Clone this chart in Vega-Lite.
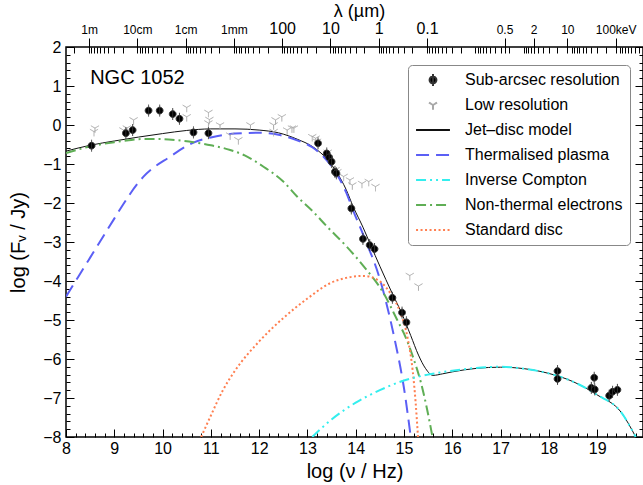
{
  "$schema": "https://vega.github.io/schema/vega-lite/v6.json",
  "width": 577,
  "height": 390,
  "autosize": {"type": "none"},
  "padding": {"left": 66, "top": 47, "right": 0, "bottom": 48},
  "background": "white",
  "config": {
    "view": {"stroke": "black", "strokeWidth": 1.5},
    "font": "Liberation Sans",
    "axis": {"grid": false, "domain": false, "labelFont": "Liberation Sans", "titleFont": "Liberation Sans", "labelColor": "black", "titleColor": "black", "tickColor": "black", "tickWidth": 1, "titleFontWeight": "normal", "labelOverlap": false, "labelFlush": false, "labelBound": false}
  },
  "resolve": {"axis": {"x": "independent", "y": "independent"}},
  "datasets": {
    "models": [
      {"series": "Jet–disc model", "nu": 8.0, "f": -0.67}, {"series": "Jet–disc model", "nu": 8.5, "f": -0.52}, {"series": "Jet–disc model", "nu": 9.0, "f": -0.41}, {"series": "Jet–disc model", "nu": 9.5, "f": -0.31}, {"series": "Jet–disc model", "nu": 10.0, "f": -0.22}, {"series": "Jet–disc model", "nu": 10.5, "f": -0.14}, {"series": "Jet–disc model", "nu": 11.0, "f": -0.1}, {"series": "Jet–disc model", "nu": 11.5, "f": -0.1}, {"series": "Jet–disc model", "nu": 12.0, "f": -0.13}, {"series": "Jet–disc model", "nu": 12.4, "f": -0.2}, {"series": "Jet–disc model", "nu": 12.8, "f": -0.37}, {"series": "Jet–disc model", "nu": 13.1, "f": -0.55}, {"series": "Jet–disc model", "nu": 13.34, "f": -0.79}, {"series": "Jet–disc model", "nu": 13.6, "f": -1.2}, {"series": "Jet–disc model", "nu": 13.8, "f": -1.65}, {"series": "Jet–disc model", "nu": 13.95, "f": -2.1}, {"series": "Jet–disc model", "nu": 14.15, "f": -2.62}, {"series": "Jet–disc model", "nu": 14.31, "f": -3.08}, {"series": "Jet–disc model", "nu": 14.5, "f": -3.62}, {"series": "Jet–disc model", "nu": 14.75, "f": -4.3}, {"series": "Jet–disc model", "nu": 14.95, "f": -4.82}, {"series": "Jet–disc model", "nu": 15.14, "f": -5.4}, {"series": "Jet–disc model", "nu": 15.3, "f": -5.9}, {"series": "Jet–disc model", "nu": 15.45, "f": -6.25}, {"series": "Jet–disc model", "nu": 15.6, "f": -6.42}, {"series": "Jet–disc model", "nu": 15.8, "f": -6.38}, {"series": "Jet–disc model", "nu": 16.0, "f": -6.33}, {"series": "Jet–disc model", "nu": 16.5, "f": -6.24}, {"series": "Jet–disc model", "nu": 17.0, "f": -6.21}, {"series": "Jet–disc model", "nu": 17.5, "f": -6.25}, {"series": "Jet–disc model", "nu": 18.0, "f": -6.37}, {"series": "Jet–disc model", "nu": 18.5, "f": -6.58}, {"series": "Jet–disc model", "nu": 19.0, "f": -6.92}, {"series": "Jet–disc model", "nu": 19.5, "f": -7.37}, {"series": "Jet–disc model", "nu": 19.8, "f": -8.0},
      {"series": "Thermalised plasma", "nu": 8.0, "f": -4.4}, {"series": "Thermalised plasma", "nu": 8.5, "f": -3.4}, {"series": "Thermalised plasma", "nu": 9.0, "f": -2.4}, {"series": "Thermalised plasma", "nu": 9.12, "f": -2.16}, {"series": "Thermalised plasma", "nu": 9.6, "f": -1.33}, {"series": "Thermalised plasma", "nu": 10.16, "f": -0.81}, {"series": "Thermalised plasma", "nu": 10.64, "f": -0.45}, {"series": "Thermalised plasma", "nu": 11.0, "f": -0.32}, {"series": "Thermalised plasma", "nu": 11.5, "f": -0.22}, {"series": "Thermalised plasma", "nu": 12.0, "f": -0.2}, {"series": "Thermalised plasma", "nu": 12.4, "f": -0.25}, {"series": "Thermalised plasma", "nu": 12.8, "f": -0.4}, {"series": "Thermalised plasma", "nu": 13.1, "f": -0.57}, {"series": "Thermalised plasma", "nu": 13.34, "f": -0.82}, {"series": "Thermalised plasma", "nu": 13.6, "f": -1.24}, {"series": "Thermalised plasma", "nu": 13.8, "f": -1.72}, {"series": "Thermalised plasma", "nu": 13.95, "f": -2.2}, {"series": "Thermalised plasma", "nu": 14.17, "f": -2.86}, {"series": "Thermalised plasma", "nu": 14.5, "f": -3.95}, {"series": "Thermalised plasma", "nu": 14.79, "f": -5.4}, {"series": "Thermalised plasma", "nu": 15.0, "f": -6.75}, {"series": "Thermalised plasma", "nu": 15.14, "f": -8.0},
      {"series": "Non-thermal electrons", "nu": 8.0, "f": -0.72}, {"series": "Non-thermal electrons", "nu": 8.5, "f": -0.55}, {"series": "Non-thermal electrons", "nu": 9.0, "f": -0.44}, {"series": "Non-thermal electrons", "nu": 9.3, "f": -0.39}, {"series": "Non-thermal electrons", "nu": 9.6, "f": -0.36}, {"series": "Non-thermal electrons", "nu": 9.95, "f": -0.36}, {"series": "Non-thermal electrons", "nu": 10.3, "f": -0.39}, {"series": "Non-thermal electrons", "nu": 10.64, "f": -0.44}, {"series": "Non-thermal electrons", "nu": 11.0, "f": -0.52}, {"series": "Non-thermal electrons", "nu": 11.4, "f": -0.64}, {"series": "Non-thermal electrons", "nu": 11.7, "f": -0.78}, {"series": "Non-thermal electrons", "nu": 12.09, "f": -1.07}, {"series": "Non-thermal electrons", "nu": 12.5, "f": -1.45}, {"series": "Non-thermal electrons", "nu": 12.79, "f": -1.84}, {"series": "Non-thermal electrons", "nu": 13.1, "f": -2.2}, {"series": "Non-thermal electrons", "nu": 13.41, "f": -2.61}, {"series": "Non-thermal electrons", "nu": 13.8, "f": -3.1}, {"series": "Non-thermal electrons", "nu": 14.17, "f": -3.63}, {"series": "Non-thermal electrons", "nu": 14.58, "f": -4.32}, {"series": "Non-thermal electrons", "nu": 14.86, "f": -5.0}, {"series": "Non-thermal electrons", "nu": 15.03, "f": -5.43}, {"series": "Non-thermal electrons", "nu": 15.2, "f": -6.0}, {"series": "Non-thermal electrons", "nu": 15.35, "f": -6.6}, {"series": "Non-thermal electrons", "nu": 15.48, "f": -7.3}, {"series": "Non-thermal electrons", "nu": 15.59, "f": -8.0},
      {"series": "Standard disc", "nu": 10.8, "f": -8.0}, {"series": "Standard disc", "nu": 11.0, "f": -7.45}, {"series": "Standard disc", "nu": 11.25, "f": -6.8}, {"series": "Standard disc", "nu": 11.5, "f": -6.3}, {"series": "Standard disc", "nu": 12.0, "f": -5.55}, {"series": "Standard disc", "nu": 12.5, "f": -4.95}, {"series": "Standard disc", "nu": 13.0, "f": -4.45}, {"series": "Standard disc", "nu": 13.48, "f": -4.05}, {"series": "Standard disc", "nu": 13.8, "f": -3.92}, {"series": "Standard disc", "nu": 14.17, "f": -3.87}, {"series": "Standard disc", "nu": 14.45, "f": -3.97}, {"series": "Standard disc", "nu": 14.72, "f": -4.32}, {"series": "Standard disc", "nu": 14.93, "f": -4.83}, {"series": "Standard disc", "nu": 15.07, "f": -5.43}, {"series": "Standard disc", "nu": 15.18, "f": -6.3}, {"series": "Standard disc", "nu": 15.24, "f": -7.1}, {"series": "Standard disc", "nu": 15.29, "f": -8.0},
      {"series": "Inverse Compton", "nu": 13.1, "f": -8.0}, {"series": "Inverse Compton", "nu": 13.5, "f": -7.55}, {"series": "Inverse Compton", "nu": 14.0, "f": -7.12}, {"series": "Inverse Compton", "nu": 14.5, "f": -6.8}, {"series": "Inverse Compton", "nu": 15.0, "f": -6.55}, {"series": "Inverse Compton", "nu": 15.5, "f": -6.4}, {"series": "Inverse Compton", "nu": 16.0, "f": -6.3}, {"series": "Inverse Compton", "nu": 16.5, "f": -6.23}, {"series": "Inverse Compton", "nu": 17.0, "f": -6.2}, {"series": "Inverse Compton", "nu": 17.5, "f": -6.25}, {"series": "Inverse Compton", "nu": 18.0, "f": -6.37}, {"series": "Inverse Compton", "nu": 18.5, "f": -6.58}, {"series": "Inverse Compton", "nu": 19.0, "f": -6.92}, {"series": "Inverse Compton", "nu": 19.5, "f": -7.37}, {"series": "Inverse Compton", "nu": 19.8, "f": -8.0}
    ],
    "points": [
      {"res": "Low resolution", "nu": 8.58, "f": -0.17}, {"res": "Low resolution", "nu": 8.6, "f": -0.08}, {"res": "Low resolution", "nu": 9.19, "f": -0.13}, {"res": "Low resolution", "nu": 9.26, "f": -0.08}, {"res": "Low resolution", "nu": 9.4, "f": 0.13}, {"res": "Low resolution", "nu": 10.5, "f": 0.45}, {"res": "Low resolution", "nu": 10.5, "f": 0.21}, {"res": "Low resolution", "nu": 10.95, "f": 0.32}, {"res": "Low resolution", "nu": 10.95, "f": 0.05}, {"res": "Low resolution", "nu": 10.97, "f": 0.14}, {"res": "Low resolution", "nu": 11.19, "f": 0.0}, {"res": "Low resolution", "nu": 11.4, "f": -0.26}, {"res": "Low resolution", "nu": 11.57, "f": -0.38}, {"res": "Low resolution", "nu": 11.82, "f": 0.0}, {"res": "Low resolution", "nu": 12.3, "f": 0.0}, {"res": "Low resolution", "nu": 12.34, "f": 0.13}, {"res": "Low resolution", "nu": 12.47, "f": 0.21}, {"res": "Low resolution", "nu": 12.3, "f": -0.17}, {"res": "Low resolution", "nu": 12.58, "f": -0.13}, {"res": "Low resolution", "nu": 12.68, "f": -0.08}, {"res": "Low resolution", "nu": 12.72, "f": -0.08}, {"res": "Low resolution", "nu": 13.1, "f": -0.3}, {"res": "Low resolution", "nu": 13.17, "f": -0.34}, {"res": "Low resolution", "nu": 13.2, "f": -0.42}, {"res": "Low resolution", "nu": 13.42, "f": -0.7}, {"res": "Low resolution", "nu": 13.58, "f": -1.15}, {"res": "Low resolution", "nu": 13.62, "f": -1.2}, {"res": "Low resolution", "nu": 13.75, "f": -1.32}, {"res": "Low resolution", "nu": 13.88, "f": -1.41}, {"res": "Low resolution", "nu": 13.93, "f": -1.54}, {"res": "Low resolution", "nu": 14.13, "f": -1.5}, {"res": "Low resolution", "nu": 14.27, "f": -1.45}, {"res": "Low resolution", "nu": 14.41, "f": -1.58}, {"res": "Low resolution", "nu": 15.12, "f": -3.86}, {"res": "Low resolution", "nu": 15.3, "f": -4.13},
      {"res": "Sub-arcsec resolution", "nu": 8.53, "f": -0.53}, {"res": "Sub-arcsec resolution", "nu": 9.24, "f": -0.21}, {"res": "Sub-arcsec resolution", "nu": 9.38, "f": -0.13}, {"res": "Sub-arcsec resolution", "nu": 9.71, "f": 0.37}, {"res": "Sub-arcsec resolution", "nu": 9.94, "f": 0.37}, {"res": "Sub-arcsec resolution", "nu": 10.21, "f": 0.28}, {"res": "Sub-arcsec resolution", "nu": 10.35, "f": 0.16}, {"res": "Sub-arcsec resolution", "nu": 10.64, "f": -0.19}, {"res": "Sub-arcsec resolution", "nu": 10.95, "f": -0.21},
      {"res": "Sub-arcsec resolution", "nu": 13.22, "f": -0.47}, {"res": "Sub-arcsec resolution", "nu": 13.4, "f": -0.73}, {"res": "Sub-arcsec resolution", "nu": 13.45, "f": -0.83}, {"res": "Sub-arcsec resolution", "nu": 13.5, "f": -0.94}, {"res": "Sub-arcsec resolution", "nu": 13.57, "f": -1.2}, {"res": "Sub-arcsec resolution", "nu": 13.6, "f": -1.24}, {"res": "Sub-arcsec resolution", "nu": 13.91, "f": -2.14}, {"res": "Sub-arcsec resolution", "nu": 14.15, "f": -2.92}, {"res": "Sub-arcsec resolution", "nu": 14.29, "f": -3.08}, {"res": "Sub-arcsec resolution", "nu": 14.39, "f": -3.18}, {"res": "Sub-arcsec resolution", "nu": 14.76, "f": -4.43}, {"res": "Sub-arcsec resolution", "nu": 14.96, "f": -4.81}, {"res": "Sub-arcsec resolution", "nu": 15.05, "f": -5.06},
      {"res": "Sub-arcsec resolution", "nu": 18.18, "f": -6.31}, {"res": "Sub-arcsec resolution", "nu": 18.18, "f": -6.51}, {"res": "Sub-arcsec resolution", "nu": 18.94, "f": -6.48}, {"res": "Sub-arcsec resolution", "nu": 18.88, "f": -6.74}, {"res": "Sub-arcsec resolution", "nu": 18.95, "f": -6.78}, {"res": "Sub-arcsec resolution", "nu": 19.25, "f": -6.94}, {"res": "Sub-arcsec resolution", "nu": 19.32, "f": -6.84}, {"res": "Sub-arcsec resolution", "nu": 19.42, "f": -6.79}
    ],
    "label": [{"text": "NGC 1052", "nu": 8.5, "f": 1.06}]
  },
  "layer": [
    {
      "data": {"name": "models"},
      "transform": [{"filter": "datum.series === 'Jet–disc model'"}],
      "mark": {"type": "line", "clip": true, "interpolate": "monotone", "color": "#111111", "strokeWidth": 1},
      "encoding": {
        "x": {"field": "nu", "type": "quantitative", "scale": {"domain": [8, 19.95], "nice": false, "zero": false},
          "axis": {"orient": "bottom", "title": "log (ν / Hz)", "titleFontSize": 20, "titlePadding": 1, "labelFontSize": 16, "labelPadding": 11.5,
            "values": [8, 8.2, 8.4, 8.6, 8.8, 9, 9.2, 9.4, 9.6, 9.8, 10, 10.2, 10.4, 10.6, 10.8, 11, 11.2, 11.4, 11.6, 11.8, 12, 12.2, 12.4, 12.6, 12.8, 13, 13.2, 13.4, 13.6, 13.8, 14, 14.2, 14.4, 14.6, 14.8, 15, 15.2, 15.4, 15.6, 15.8, 16, 16.2, 16.4, 16.6, 16.8, 17, 17.2, 17.4, 17.6, 17.8, 18, 18.2, 18.4, 18.6, 18.8, 19, 19.2, 19.4, 19.6, 19.8],
            "labelExpr": "datum.value % 1 === 0 ? format(datum.value, 'd') : ''",
            "tickSize": {"condition": {"test": "datum.value % 1 === 0", "value": -8}, "value": -4}}},
        "y": {"field": "f", "type": "quantitative", "scale": {"domain": [-8, 2], "nice": false, "zero": false},
          "axis": {"orient": "left", "title": "log (Fᵥ / Jy)", "titleFontSize": 20, "titlePadding": 14, "labelFontSize": 16, "labelPadding": 13,
            "values": [-8, -7.8, -7.6, -7.4, -7.2, -7, -6.8, -6.6, -6.4, -6.2, -6, -5.8, -5.6, -5.4, -5.2, -5, -4.8, -4.6, -4.4, -4.2, -4, -3.8, -3.6, -3.4, -3.2, -3, -2.8, -2.6, -2.4, -2.2, -2, -1.8, -1.6, -1.4, -1.2, -1, -0.8, -0.6, -0.4, -0.2, 0, 0.2, 0.4, 0.6, 0.8, 1, 1.2, 1.4, 1.6, 1.8, 2],
            "labelExpr": "datum.value % 1 === 0 ? format(datum.value, 'd') : ''",
            "tickSize": {"condition": {"test": "datum.value % 1 === 0", "value": -8}, "value": -4}}}
      }
    },
    {
      "data": {"name": "models"},
      "transform": [{"filter": "datum.series === 'Thermalised plasma'"}],
      "mark": {"type": "line", "clip": true, "interpolate": "monotone", "color": "#5b5ff5", "strokeWidth": 2, "strokeDash": [13, 7]},
      "encoding": {
        "x": {"field": "nu", "type": "quantitative", "scale": {"domain": [8, 19.95], "nice": false, "zero": false}, "axis": null},
        "y": {"field": "f", "type": "quantitative", "scale": {"domain": [-8, 2], "nice": false, "zero": false}, "axis": null}
      }
    },
    {
      "data": {"name": "models"},
      "transform": [{"filter": "datum.series === 'Non-thermal electrons'"}],
      "mark": {"type": "line", "clip": true, "interpolate": "monotone", "color": "#5fae55", "strokeWidth": 2, "strokeDash": [10, 4, 2, 4]},
      "encoding": {
        "x": {"field": "nu", "type": "quantitative", "scale": {"domain": [8, 19.95], "nice": false, "zero": false}, "axis": null},
        "y": {"field": "f", "type": "quantitative", "scale": {"domain": [-8, 2], "nice": false, "zero": false}, "axis": null}
      }
    },
    {
      "data": {"name": "models"},
      "transform": [{"filter": "datum.series === 'Standard disc'"}],
      "mark": {"type": "line", "clip": true, "interpolate": "monotone", "color": "#ff7f50", "strokeWidth": 2, "strokeDash": [2, 2.5]},
      "encoding": {
        "x": {"field": "nu", "type": "quantitative", "scale": {"domain": [8, 19.95], "nice": false, "zero": false}, "axis": null},
        "y": {"field": "f", "type": "quantitative", "scale": {"domain": [-8, 2], "nice": false, "zero": false}, "axis": null}
      }
    },
    {
      "data": {"name": "models"},
      "transform": [{"filter": "datum.series === 'Inverse Compton'"}],
      "mark": {"type": "line", "clip": true, "interpolate": "monotone", "color": "#33eeee", "strokeWidth": 2, "strokeDash": [10, 4, 2, 4, 2, 4]},
      "encoding": {
        "x": {"field": "nu", "type": "quantitative", "scale": {"domain": [8, 19.95], "nice": false, "zero": false}, "axis": null},
        "y": {"field": "f", "type": "quantitative", "scale": {"domain": [-8, 2], "nice": false, "zero": false}, "axis": null}
      }
    },
    {
      "data": {"name": "points"},
      "mark": {"type": "point", "filled": true, "size": 1150, "strokeWidth": 1, "opacity": 1, "clip": true},
      "encoding": {
        "x": {"field": "nu", "type": "quantitative", "scale": {"domain": [8, 19.95], "nice": false, "zero": false},
          "axis": {"orient": "top", "offset": -6, "title": "λ (µm)", "titleFontSize": 18, "titlePadding": 0, "labelPadding": 2, "titleX": 293,
            "values": [8.176, 8.477, 8.523, 8.574, 8.632, 8.699, 8.778, 8.875, 9.0, 9.176, 9.477, 9.523, 9.574, 9.632, 9.699, 9.778, 9.875, 10.0, 10.176, 10.477, 10.523, 10.574, 10.632, 10.699, 10.778, 10.875, 11.0, 11.176, 11.477, 11.523, 11.574, 11.632, 11.699, 11.778, 11.875, 12.0, 12.176, 12.477, 12.523, 12.574, 12.632, 12.699, 12.778, 12.875, 13.0, 13.176, 13.477, 13.523, 13.574, 13.632, 13.699, 13.778, 13.875, 14.0, 14.176, 14.477, 14.523, 14.574, 14.632, 14.699, 14.778, 14.875, 15.0, 15.176, 15.477, 15.523, 15.574, 15.632, 15.699, 15.778, 15.875, 16.0, 16.176, 16.477, 16.523, 16.574, 16.632, 16.699, 16.778, 16.875, 17.0, 17.176, 17.477, 17.523, 17.574, 17.632, 17.699, 17.778, 17.875, 18.0, 18.176, 18.477, 18.523, 18.574, 18.632, 18.699, 18.778, 18.875, 19.0, 19.176, 19.477, 19.523, 19.574, 19.632, 19.699, 19.778, 19.875, 17.082, 17.685, 18.383, 19.383],
            "labelExpr": "['1m','10cm','1cm','1mm','100','10','1','0.1','0.5','2','10','100keV'][indexof([8.477, 9.477, 10.477, 11.477, 12.477, 13.477, 14.477, 15.477, 17.082, 17.685, 18.383, 19.383], datum.value)] || ''",
            "labelFontSize": {"condition": {"test": "datum.value > 12 && datum.value < 16", "value": 16}, "value": 12},
            "tickSize": {"condition": {"test": "indexof([8.477, 9.477, 10.477, 11.477, 12.477, 13.477, 14.477, 15.477, 17.082, 17.685, 18.383, 19.383], datum.value) >= 0", "value": 15}, "value": 6}}},
        "y": {"field": "f", "type": "quantitative", "scale": {"domain": [-8, 2], "nice": false, "zero": false},
          "axis": {"orient": "right", "title": null, "labels": false,
            "values": [-8, -7.8, -7.6, -7.4, -7.2, -7, -6.8, -6.6, -6.4, -6.2, -6, -5.8, -5.6, -5.4, -5.2, -5, -4.8, -4.6, -4.4, -4.2, -4, -3.8, -3.6, -3.4, -3.2, -3, -2.8, -2.6, -2.4, -2.2, -2, -1.8, -1.6, -1.4, -1.2, -1, -0.8, -0.6, -0.4, -0.2, 0, 0.2, 0.4, 0.6, 0.8, 1, 1.2, 1.4, 1.6, 1.8, 2],
            "tickSize": {"condition": {"test": "datum.value % 1 === 0", "value": -8}, "value": -4}}},
        "shape": {"field": "res", "type": "nominal",
          "scale": {"domain": ["Sub-arcsec resolution", "Low resolution", "Jet–disc model", "Thermalised plasma", "Inverse Compton", "Non-thermal electrons", "Standard disc"],
            "range": ["M0,-0.35L0,0.35M0.2,0A0.2,0.2 0 1,1 -0.2,0A0.2,0.2 0 1,1 0.2,0Z", "M0,0L0,0.28M0,0L-0.24,-0.14M0,0L0.24,-0.14", "M-1,0L1,0", "M-1,0L1,0", "M-1,0L1,0", "M-1,0L1,0", "M-1,0L1,0"]},
          "legend": {"orient": "none", "legendX": 342, "legendY": 18, "title": null, "fillColor": "white", "strokeColor": "#888888", "cornerRadius": 4, "padding": 7,
            "labelFont": "Liberation Sans", "labelFontSize": 16, "labelColor": "black", "labelOffset": 14, "labelLimit": 300, "rowPadding": 9, "clipHeight": 16,
            "symbolSize": 1150, "symbolStrokeWidth": 2}},
        "fill": {"field": "res", "type": "nominal",
          "scale": {"domain": ["Sub-arcsec resolution", "Low resolution", "Jet–disc model", "Thermalised plasma", "Inverse Compton", "Non-thermal electrons", "Standard disc"],
            "range": ["black", "transparent", "transparent", "transparent", "transparent", "transparent", "transparent"]}},
        "stroke": {"field": "res", "type": "nominal",
          "scale": {"domain": ["Sub-arcsec resolution", "Low resolution", "Jet–disc model", "Thermalised plasma", "Inverse Compton", "Non-thermal electrons", "Standard disc"],
            "range": ["#333333", "#a8a8a8", "#111111", "#5b5ff5", "#33eeee", "#5fae55", "#ff7f50"]}},
        "strokeDash": {"field": "res", "type": "nominal",
          "scale": {"domain": ["Sub-arcsec resolution", "Low resolution", "Jet–disc model", "Thermalised plasma", "Inverse Compton", "Non-thermal electrons", "Standard disc"],
            "range": [[1, 0], [1, 0], [1, 0], [13, 7], [10, 4, 2, 4, 2, 4], [10, 4, 2, 4], [2, 2.5]]}}
      }
    },
    {
      "data": {"name": "label"},
      "mark": {"type": "text", "align": "left", "baseline": "alphabetic", "fontSize": 20, "font": "Liberation Sans", "color": "black"},
      "encoding": {
        "x": {"field": "nu", "type": "quantitative", "scale": {"domain": [8, 19.95], "nice": false, "zero": false}, "axis": null},
        "y": {"field": "f", "type": "quantitative", "scale": {"domain": [-8, 2], "nice": false, "zero": false}, "axis": null},
        "text": {"field": "text"}
      }
    }
  ]
}
